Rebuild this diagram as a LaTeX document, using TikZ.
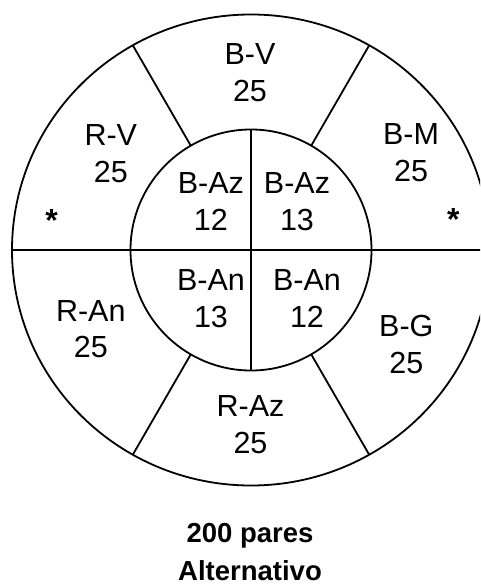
\documentclass[tikz,border=0pt]{standalone}
\usepackage{fontspec}
\setmainfont{Liberation Sans}
\begin{document}
\begin{tikzpicture}[x=1pt,y=-1pt,
  ring/.style={line width=1.8pt},
  lbl/.style={align=center,inner sep=0pt,font=\fontsize{30.5}{36.7}\selectfont},
  star/.style={inner sep=0pt,anchor=base,font=\fontsize{32}{34}\selectfont\bfseries},
  ttl/.style={align=center,inner sep=0pt,font=\fontsize{27.5}{38.3}\selectfont\bfseries}]
\useasboundingbox (0,0) rectangle (480,586);
\clip (0,0) rectangle (480,586);
\fill[white] (0,0) rectangle (480,586);
\coordinate (c) at (251,250);
% outer and inner circles
\draw[ring] (c) ellipse [x radius=239, y radius=235.5];
\draw[ring] (c) circle [radius=120.5];
% dividing lines
\draw[ring] (12,250) -- (491,250);
\draw[ring] (251,129.5) -- (251,370.5);
\draw[ring] (190.75,145.6) -- (132.8,45.3);
\draw[ring] (311.25,145.6) -- (369.2,45.3);
\draw[ring] (190.75,354.4) -- (132.8,454.7);
\draw[ring] (311.25,354.4) -- (369.2,454.7);
% outer ring labels
\node[lbl] (bv)  at (250,72.9)   {B-V\\25};
\node[lbl] (rv)  at (110.8,153.9){R-V\\25};
\node[lbl] (bm)  at (411,153)    {B-M\\25};
\node[lbl] (ran) at (90.8,329.2) {R-An\\25};
\node[lbl] (bg)  at (406.3,344.5){B-G\\25};
\node[lbl] (raz) at (250.5,425)  {R-Az\\25};
% inner labels
\node[lbl] (baz1) at (210.8,201.7) {B-Az\\12};
\node[lbl] (baz2) at (297,201.7)   {B-Az\\13};
\node[lbl] (ban1) at (211,298.6)   {B-An\\13};
\node[lbl] (ban2) at (307,298.6)   {B-An\\12};
% asterisks
\node[star] (s1) at (51.7,231)  {*};
\node[star] (s2) at (453.3,230.5)   {*};
% title
\node[ttl] (t) at (250,552) {200 pares\\Alternativo};
\end{tikzpicture}
\end{document}
